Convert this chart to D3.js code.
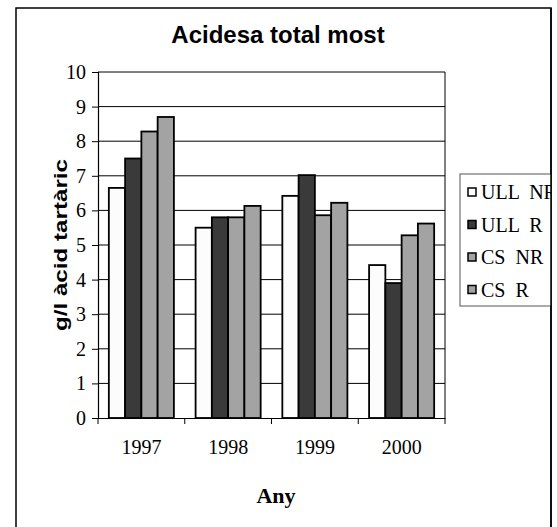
<!DOCTYPE html>
<html><head><meta charset="utf-8">
<script src="https://cdn.jsdelivr.net/npm/d3@7"></script>
<style>body{margin:0;background:#fff}svg{display:block}text{white-space:pre}</style>
</head><body>
<svg id="c" width="557" height="527"></svg>
<script>
const categories = ["1997", "1998", "1999", "2000"];
const seriesNames = ["ULL  NR", "ULL  R", "CS  NR", "CS  R"];
const ullNR = [6.65, 5.5, 6.42, 4.42];
const ullR  = [7.5, 5.8, 7.02, 3.9];
const csNR  = [8.28, 5.8, 5.86, 5.28];
const csR   = [8.7, 6.13, 6.22, 5.62];
const yTicks = [0,1,2,3,4,5,6,7,8,9,10];
const colors = ["#fcfcfc", "#3a3a3a", "#a3a3a3", "#a3a3a3"];
const series = [ullNR, ullR, csNR, csR];

const svg = d3.select("#c");
const L = 98, R = 445, T = 72, B = 418;
const serif = "'Liberation Serif', 'Times New Roman', serif";
const sans = "'Liberation Sans', Arial, sans-serif";

svg.append("rect").attr("x",16).attr("y",8).attr("width",535).attr("height",530)
  .attr("fill","#fff").attr("stroke","#000").attr("stroke-width",1.5);

const x0 = d3.scaleBand().domain(categories).range([L,R]).paddingInner(0.25).paddingOuter(0.125);
const x1 = d3.scaleBand().domain(d3.range(series.length)).range([0,x0.bandwidth()]).padding(0);
const y = d3.scaleLinear().domain([0,10]).range([B,T]);

// gridlines
svg.append("g").selectAll("line").data(yTicks.filter(d=>d>0)).join("line")
  .attr("x1",L).attr("x2",R).attr("y1",d=>y(d)).attr("y2",d=>y(d))
  .attr("stroke","#000").attr("stroke-width",1);
// right border
svg.append("line").attr("x1",R).attr("x2",R).attr("y1",T).attr("y2",B).attr("stroke","#000").attr("stroke-width",1);

// bars
const rows = categories.map((c,i)=>({c, vals: series.map(s=>s[i])}));
svg.append("g").selectAll("g").data(rows).join("g")
  .attr("transform",d=>`translate(${x0(d.c)},0)`)
  .selectAll("rect").data(d=>d.vals.map((v,k)=>({v,k}))).join("rect")
  .attr("x",d=>x1(d.k)).attr("width",x1.bandwidth())
  .attr("y",d=>y(d.v)).attr("height",d=>B-y(d.v))
  .attr("fill",d=>colors[d.k]).attr("stroke","#000").attr("stroke-width",1.8);

// y axis
const ya = svg.append("g").attr("transform",`translate(${L},0)`)
  .attr("font-family",serif).attr("font-size",20)
  .call(d3.axisLeft(y).tickValues(yTicks).tickSize(6).tickPadding(6).tickFormat(d3.format("d")));
ya.attr("font-family",serif).attr("font-size",20);
ya.select(".domain").attr("stroke","#000").attr("stroke-width",1.2);
ya.selectAll("line").attr("stroke","#000");
ya.selectAll("text").style("font-family",serif).style("font-size","20px").attr("fill","#000");

// x axis
const xa = svg.append("g").attr("transform",`translate(0,${B})`)
  .call(d3.axisBottom(x0).tickSize(0).tickPadding(0));
xa.attr("font-family",serif).attr("font-size",20);
xa.select(".domain").attr("stroke","#000").attr("stroke-width",1.2);
xa.selectAll("text").style("font-family",serif).style("font-size","20px")
  .attr("fill","#000").attr("dy",null).attr("y",36);
// boundary ticks
const bounds = categories.map(c=>x0(c)-x0.step()*x0.paddingInner()/2).concat([R]);
svg.append("g").selectAll("line").data(bounds).join("line")
  .attr("x1",d=>d).attr("x2",d=>d).attr("y1",B).attr("y2",B+6).attr("stroke","#000");

// titles
svg.append("text").attr("x",278).attr("y",43).attr("text-anchor","middle")
  .attr("font-family",sans).attr("font-weight","bold").attr("font-size",24)
  .text("Acidesa total most");
svg.append("text").attr("transform","translate(67,245) rotate(-90)").attr("text-anchor","middle")
  .attr("font-family",sans).attr("font-weight","bold").attr("font-size",18)
  .attr("textLength",172).attr("lengthAdjust","spacingAndGlyphs")
  .text("g/l àcid tartàric");
svg.append("text").attr("x",276).attr("y",503).attr("text-anchor","middle")
  .attr("font-family",serif).attr("font-weight","bold").attr("font-size",22)
  .text("Any");

// legend
svg.append("clipPath").attr("id","lc").append("rect").attr("x",0).attr("y",0).attr("width",551).attr("height",527);
const lg = svg.append("g").attr("clip-path","url(#lc)");
lg.append("rect").attr("x",460).attr("y",174).attr("width",110).attr("height",132)
  .attr("fill","#fff").attr("stroke","#555").attr("stroke-width",1);
const items = lg.selectAll("g.it").data(seriesNames).join("g").attr("class","it")
  .attr("transform",(d,i)=>`translate(468,${192+i*32.5})`);
items.append("rect").attr("x",0).attr("y",-4).attr("width",8).attr("height",8)
  .attr("fill",(d,i)=>colors[i]).attr("stroke","#000").attr("stroke-width",1.5);
items.append("text").attr("x",13).attr("y",7).attr("font-family",serif).attr("font-size",20)
  .text(d=>d);
svg.append("line").attr("x1",551).attr("x2",551).attr("y1",8).attr("y2",527).attr("stroke","#000").attr("stroke-width",1.5);
</script>
</body></html>
